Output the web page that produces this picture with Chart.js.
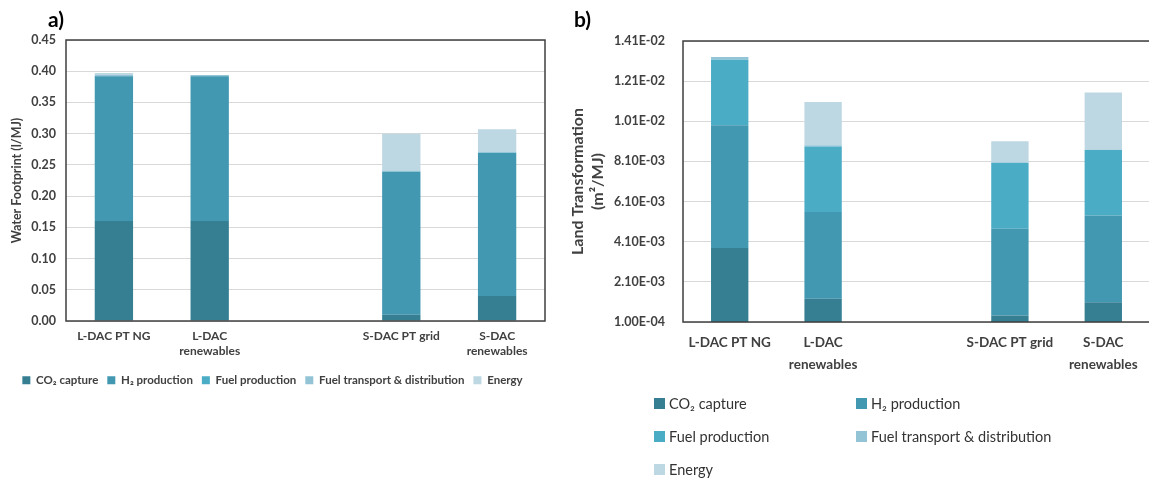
<!DOCTYPE html>
<html>
<head>
<meta charset="utf-8">
<script src="https://cdn.jsdelivr.net/npm/chart.js@4.4.1/dist/chart.umd.min.js"></script>
<style>
  body { margin: 0; width: 1149px; height: 478px; overflow: hidden; position: relative; background: #fff; font-family: Lato, sans-serif; }
  .box { position: absolute; top: 0; height: 478px; }
  .tag { position: absolute; font: bold 21px Lato, sans-serif; color: #000; }
  #legendB { position: absolute; left: 654px; top: 393px; width: 460px; display: grid; grid-template-columns: 202px 240px; row-gap: 12px; }
  #legendB div { display: flex; align-items: center; font-size: 14.5px; color: #333; height: 21px; }
  #legendB span { display: inline-block; width: 11px; height: 11px; margin-right: 4px; }
</style>
</head>
<body>
<div class="box" style="left:0;width:565px"><canvas id="chartA"></canvas></div>
<div class="box" style="left:565px;width:600px"><canvas id="chartB"></canvas></div>
<div class="tag" style="left:48px;top:6px">a)</div>
<div class="tag" style="left:574px;top:6px">b)</div>
<div id="legendB"></div>
<script>
var categories = ["L-DAC PT NG", ["L-DAC", "renewables"], "", "S-DAC PT grid", ["S-DAC", "renewables"]];
var seriesNames = ["CO\u2082 capture", "H\u2082 production", "Fuel production", "Fuel transport & distribution", "Energy"];
var seriesColors = ["#367f93", "#4298b1", "#4bacc6", "#92c4d6", "#bdd7e3"];

// a) water footprint (l/MJ)
var waterCO2 = [0.16, 0.16, null, 0.01, 0.04];
var waterH2 = [0.232, 0.232, null, 0.229, 0.229];
var waterFuel = [0.0005, 0.0005, null, 0.0005, 0.0005];
var waterTransport = [0.0015, 0.0015, null, 0.0015, 0.0015];
var waterEnergy = [0.003, 0, null, 0.059, 0.036];
var waterTicks = {min: 0, max: 0.45, step: 0.05};

// b) land transformation (m2/MJ)
var landCO2 = [0.00379, 0.00126, null, 0.00043, 0.00108];
var landH2 = [0.00611, 0.00432, null, 0.00432, 0.00433];
var landFuel = [0.00327, 0.00327, null, 0.00327, 0.00326];
var landTransport = [0.00013, 0.00005, null, 0.00004, 0.00002];
var landEnergy = [0, 0.00216, null, 0.00104, 0.00284];
var landTicks = {min: 0.0001, max: 0.0141, step: 0.002};

Chart.defaults.font.family = "Lato";
Chart.defaults.color = "#404040";

function makeSets(list) {
    return list.map(function (d, i) {
        return {
            label: seriesNames[i],
            data: d,
            backgroundColor: seriesColors[i],
            borderWidth: 0,
            barPercentage: 0.4,
            categoryPercentage: 1
        };
    });
}

var frame = {
    id: "frame",
    afterDatasetsDraw: function (chart) {
        var a = chart.chartArea, ctx = chart.ctx;
        ctx.save();
        ctx.strokeStyle = "#3f3f3f";
        ctx.lineWidth = 1.5;
        ctx.strokeRect(a.left, a.top, a.right - a.left, a.bottom - a.top);
        ctx.restore();
    }
};

function sci(v) {
    var p = v.toExponential(2).split("e");
    var e = parseInt(p[1], 10);
    return p[0] + "E" + (e < 0 ? "-" : "+") + String(Math.abs(e)).padStart(2, "0");
}

new Chart(document.getElementById("chartA"), {
    type: "bar",
    data: {
        labels: categories,
        datasets: makeSets([waterCO2, waterH2, waterFuel, waterTransport, waterEnergy])
    },
    options: {
        responsive: true,
        maintainAspectRatio: false,
        animation: false,
        layout: {padding: {top: 40, right: 20, bottom: 82, left: 0}},
        plugins: {
            tooltip: {enabled: false},
            legend: {
                position: "bottom",
                labels: {boxWidth: 8, boxHeight: 8, padding: 9, color: "#404040", font: {size: 11.5, weight: "bold"}}
            }
        },
        scales: {
            x: {
                stacked: true,
                grid: {display: false, drawTicks: false},
                border: {display: false},
                ticks: {padding: 8, maxRotation: 0, autoSkip: false, font: {size: 12, weight: "bold", lineHeight: 1.25}},
                afterFit: function (s) { s.height = 44.5; }
            },
            y: {
                stacked: true,
                min: waterTicks.min,
                max: waterTicks.max,
                grid: {color: "#d9d9d9", drawTicks: false},
                border: {display: false},
                ticks: {stepSize: waterTicks.step, padding: 10, font: {size: 12.5, weight: "bold"},
                    callback: function (v) { return v.toFixed(2); }},
                title: {display: true, text: "Water Footprint (l/MJ)", padding: {top: 9.5, bottom: 0},
                    font: {size: 12.5, weight: "bold"}},
                afterFit: function (s) { s.width = 66; }
            }
        }
    },
    plugins: [frame]
});

new Chart(document.getElementById("chartB"), {
    type: "bar",
    data: {
        labels: categories,
        datasets: makeSets([landCO2, landH2, landFuel, landTransport, landEnergy])
    },
    options: {
        responsive: true,
        maintainAspectRatio: false,
        animation: false,
        layout: {padding: {top: 41, right: 15, bottom: 96, left: 0}},
        plugins: {
            tooltip: {enabled: false},
            legend: {display: false}
        },
        scales: {
            x: {
                stacked: true,
                grid: {display: false, drawTicks: false},
                border: {display: false},
                ticks: {padding: 10, maxRotation: 0, autoSkip: false, font: {size: 13.5, weight: "bold", lineHeight: 1.6}},
                afterFit: function (s) { s.height = 60; }
            },
            y: {
                stacked: true,
                min: landTicks.min,
                max: landTicks.max,
                grid: {color: "#d9d9d9", drawTicks: false},
                border: {display: false},
                ticks: {stepSize: landTicks.step, padding: 18, font: {size: 12.5, weight: "bold"},
                    callback: function (v) { return sci(v); }},
                title: {display: true, text: ["Land Transformation", "(m\u00b2/MJ)"], padding: {top: 3, bottom: 0},
                    font: {size: 16, weight: "bold", lineHeight: 1.25}},
                afterFit: function (s) { s.width = 118; }
            }
        }
    },
    plugins: [frame]
});

var leg = document.getElementById("legendB");
seriesNames.forEach(function (name, i) {
    var item = document.createElement("div");
    var sw = document.createElement("span");
    sw.style.background = seriesColors[i];
    item.appendChild(sw);
    item.appendChild(document.createTextNode(name));
    leg.appendChild(item);
});
</script>
</body>
</html>
